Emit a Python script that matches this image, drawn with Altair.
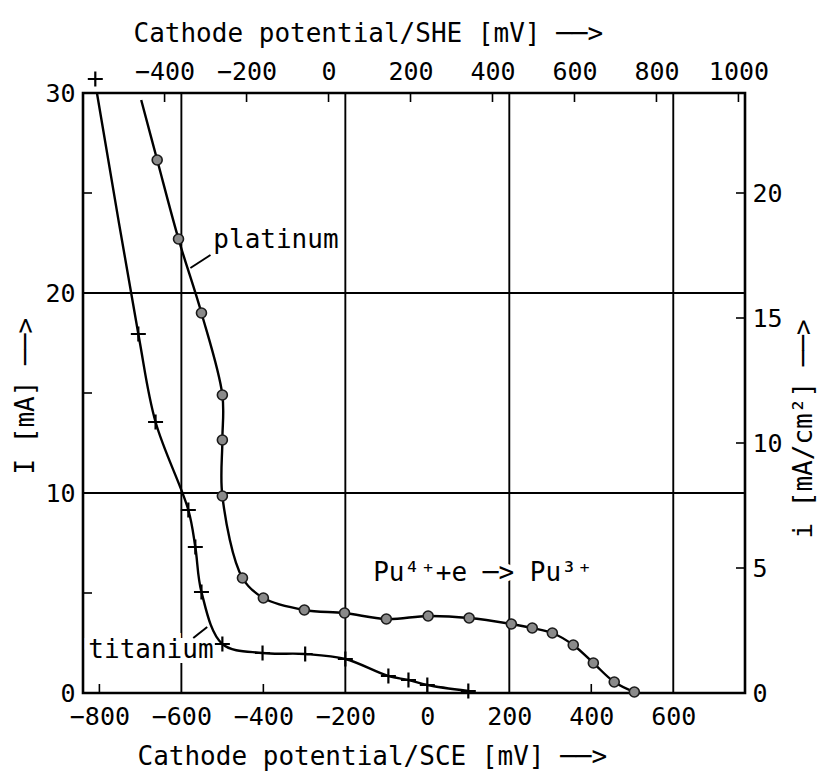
import altair as alt
import pandas as pd

# ---- measured values (potential vs SCE in mV, current I in mA) ----
# platinum cathode (circles)
PT_E = [-659, -607, -551, -500, -500, -500, -451, -400, -300, -202, -100, 2, 102,
        205, 256, 305, 356, 405, 456, 505]
PT_I = [26.65, 22.7, 19.0, 14.9, 12.65, 9.85, 5.75, 4.75, 4.15, 4.0, 3.7, 3.85, 3.75,
        3.45, 3.25, 3.0, 2.4, 1.5, 0.55, 0.05]
# fitted platinum curve continues up to the frame
PT_CURVE_TOP_E = [-698]
PT_CURVE_TOP_I = [29.65]

# titanium cathode (crosses)
TI_E = [-810, -705, -663, -583, -566, -551, -500, -402, -298, -200, -95, -46, 0, 100]
TI_I = [30.7, 17.95, 13.55, 9.15, 7.3, 5.05, 2.45, 2.0, 1.95, 1.7, 0.85, 0.65, 0.4, 0.1]
# fitted titanium curve starts at the frame below the first cross
TI_CURVE_TOP_E = [-806]
TI_CURVE_TOP_I = [30.0]

# axes
SCE_TICKS = [-800, -600, -400, -200, 0, 200, 400, 600]
SHE_TICKS = [-400, -200, 0, 200, 400, 600, 800, 1000]
SHE_OFFSET = 241            # E(SHE) = E(SCE) + 241 mV
I_TICKS = [0, 10, 20, 30]
DENSITY_TICKS = [0, 5, 10, 15, 20]   # i in mA/cm2
AREA_FACTOR = 0.8                    # i = 0.8 * I

GRID_E = [-600, -200, 200, 600]
GRID_I = [10, 20]
BOTTOM_INNER_TICKS = [-800, -400, 0, 400]
LEFT_INNER_TICKS = [5, 15, 25]

ARROW = "──>"

# annotations
LABEL_TEXT = ["platinum", "titanium", "Pu⁴⁺+e ─> Pu³⁺"]
LABEL_E = [-522, -827, -132]
LABEL_I = [22.65, 2.15, 6.0]
PT_LEADER_E = [-578, -529]
PT_LEADER_I = [21.25, 21.9]
TI_LEADER_E = [-571, -537]
TI_LEADER_I = [2.75, 3.3]

W, H = 662, 600
MONO = "DejaVu Sans Mono"

xs = alt.Scale(domain=[-840, 775], nice=False, zero=False)
ys = alt.Scale(domain=[0, 30], nice=False, zero=False)


def line_frame(e, i):
    df = pd.DataFrame({"e": e, "i": i})
    df["k"] = range(len(df))
    return df


bottom_axis = alt.Axis(
    orient="bottom", values=SCE_TICKS, format="d", domain=False, ticks=False, grid=False,
    labelFont=MONO, labelFontSize=25, labelColor="black", labelPadding=11,
    labelFlush=False, labelOverlap=False,
    title=f"Cathode potential/SCE [mV] {ARROW}", titleFont=MONO, titleFontSize=26,
    titleFontWeight="normal", titleColor="black", titleAnchor="start", titleAlign="left",
    titleX=54, titleY=71, titleBaseline="alphabetic",
)
top_axis = alt.Axis(
    orient="top", values=[v - SHE_OFFSET for v in SHE_TICKS],
    labelExpr=f"format(datum.value + {SHE_OFFSET}, 'd')",
    domain=False, ticks=False, grid=False,
    labelFont=MONO, labelFontSize=25, labelColor="black", labelPadding=9,
    labelFlush=False, labelOverlap=False,
    title=f"Cathode potential/SHE [mV] {ARROW}", titleFont=MONO, titleFontSize=26,
    titleFontWeight="normal", titleColor="black", titleAnchor="start", titleAlign="left",
    titleX=50, titleY=-52, titleBaseline="alphabetic",
)
left_axis = alt.Axis(
    orient="left", values=I_TICKS, format="d", domain=False, ticks=False, grid=False,
    labelFont=MONO, labelFontSize=25, labelColor="black", labelPadding=8,
    labelFlush=False, labelOverlap=False,
    title=f"I [mA] {ARROW}", titleFont=MONO, titleFontSize=26, titleFontWeight="normal",
    titleColor="black", titleAngle=270, titleAlign="left", titleBaseline="middle",
    titleX=-58, titleY=381,
)
right_axis = alt.Axis(
    orient="right", values=[v / AREA_FACTOR for v in DENSITY_TICKS],
    labelExpr=f"format(datum.value * {AREA_FACTOR}, '.0f')",
    domain=False, ticks=False, grid=False,
    labelFont=MONO, labelFontSize=25, labelColor="black", labelPadding=7,
    labelFlush=False, labelOverlap=False,
    title=f"i [mA/cm²] {ARROW}", titleFont=MONO, titleFontSize=26, titleFontWeight="normal",
    titleColor="black", titleAngle=270, titleAlign="left", titleBaseline="middle",
    titleX=58, titleY=445,
)

# grid lines (carry the bottom and left axes)
grid_x = alt.Chart(pd.DataFrame({"e": GRID_E})).mark_rule(
    color="black", strokeWidth=1.9
).encode(x=alt.X("e:Q", scale=xs, axis=bottom_axis))

grid_y = alt.Chart(pd.DataFrame({"i": GRID_I})).mark_rule(
    color="black", strokeWidth=1.9
).encode(y=alt.Y("i:Q", scale=ys, axis=left_axis))

# short inward ticks on each side of the frame
ticks_top = alt.Chart(pd.DataFrame({"she": SHE_TICKS})).transform_calculate(
    sce=f"datum.she - {SHE_OFFSET}"
).mark_rule(color="black", strokeWidth=1.6).encode(
    x=alt.X("sce:Q", scale=xs, axis=top_axis),
    y=alt.value(0), y2=alt.value(9),
)
ticks_right = alt.Chart(pd.DataFrame({"dens": DENSITY_TICKS[1:]})).transform_calculate(
    cur=f"datum.dens / {AREA_FACTOR}"
).mark_rule(color="black", strokeWidth=1.6).encode(
    y=alt.Y("cur:Q", scale=ys, axis=right_axis),
    x=alt.value(W), x2=alt.value(W - 9),
)
ticks_bottom = alt.Chart(pd.DataFrame({"e": BOTTOM_INNER_TICKS})).mark_rule(
    color="black", strokeWidth=1.6
).encode(x=alt.X("e:Q", scale=xs, axis=None), y=alt.value(H), y2=alt.value(H - 9))
ticks_left = alt.Chart(pd.DataFrame({"i": LEFT_INNER_TICKS})).mark_rule(
    color="black", strokeWidth=1.6
).encode(y=alt.Y("i:Q", scale=ys, axis=None), x=alt.value(0), x2=alt.value(9))

labels_df = pd.DataFrame({"t": LABEL_TEXT, "e": LABEL_E, "i": LABEL_I})
label_enc = dict(
    x=alt.X("e:Q", scale=xs, axis=None),
    y=alt.Y("i:Q", scale=ys, axis=None),
    text="t:N",
)
label_halo = alt.Chart(labels_df).mark_text(
    align="left", baseline="middle", font=MONO, fontSize=26,
    fill="white", stroke="white", strokeWidth=10,
).encode(**label_enc)
label_text = alt.Chart(labels_df).mark_text(
    align="left", baseline="middle", font=MONO, fontSize=26, color="black",
).encode(**label_enc)


def curve(df, width=2.4, interp="catmull-rom"):
    return alt.Chart(df).mark_line(
        color="black", strokeWidth=width, interpolate=interp
    ).encode(
        x=alt.X("e:Q", scale=xs, axis=None),
        y=alt.Y("i:Q", scale=ys, axis=None),
        order="k:Q",
    )


pt_curve = curve(line_frame(PT_CURVE_TOP_E + PT_E, PT_CURVE_TOP_I + PT_I))
ti_curve = curve(line_frame(TI_CURVE_TOP_E + TI_E[1:], TI_CURVE_TOP_I + TI_I[1:]))
pt_leader = curve(line_frame(PT_LEADER_E, PT_LEADER_I), width=2, interp="linear")
ti_leader = curve(line_frame(TI_LEADER_E, TI_LEADER_I), width=2, interp="linear")

pt_points = alt.Chart(pd.DataFrame({"e": PT_E, "i": PT_I})).mark_point(
    shape="circle", filled=True, size=100, fill="#8a8a8a", stroke="#1a1a1a",
    strokeWidth=1.6, opacity=1,
).encode(x=alt.X("e:Q", scale=xs, axis=None), y=alt.Y("i:Q", scale=ys, axis=None))

ti_points = alt.Chart(pd.DataFrame({"e": TI_E, "i": TI_I})).mark_point(
    shape="M-1,0H1M0,-1V1", filled=False, size=225, stroke="black",
    strokeWidth=2.2, opacity=1,
).encode(x=alt.X("e:Q", scale=xs, axis=None), y=alt.Y("i:Q", scale=ys, axis=None))

chart = alt.layer(
    grid_x, grid_y, ticks_top, ticks_right, ticks_bottom, ticks_left,
    label_halo, pt_leader, ti_leader, pt_curve, ti_curve,
    pt_points, ti_points, label_text,
).resolve_axis(
    x="independent", y="independent"
).properties(
    width=W, height=H,
    padding={"left": 83, "top": 93, "right": 819 - 83 - W, "bottom": 774 - 93 - H},
    autosize=alt.AutoSizeParams(type="none"),
).configure(
    background="white",
).configure_view(
    stroke="black", strokeWidth=2.6,
)

chart.save("out.html", embed_options={"renderer": "svg", "actions": False})
